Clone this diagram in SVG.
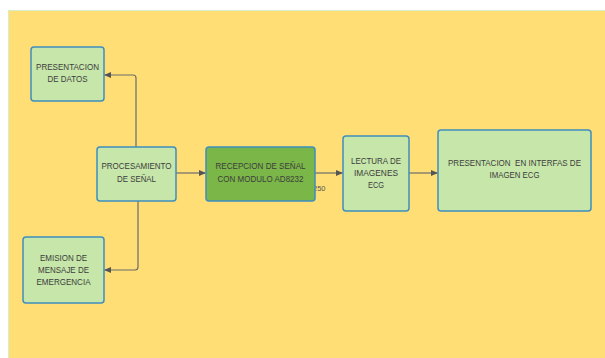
<svg xmlns="http://www.w3.org/2000/svg" width="605" height="358" viewBox="0 0 605 358">
<style>
.node{fill:#C6E6AA;stroke:#3E8FBF;stroke-width:1.5}
.dark{fill:#7AB648;stroke:#3E8FBF;stroke-width:1.5}
.lbl{font-family:"Liberation Sans",Arial,sans-serif;font-size:9px;fill:#3d3d3d;text-anchor:middle}
.conn{fill:none;stroke:#6b6b6b;stroke-width:1.2}
</style>
<defs>
<marker id="arr" markerWidth="7" markerHeight="6" refX="6.5" refY="3" orient="auto" markerUnits="userSpaceOnUse">
<path d="M0,0 L7,3 L0,6 Z" fill="#555"/>
</marker>
</defs>
<rect x="0" y="0" width="605" height="358" fill="#ffffff"/>
<rect x="8.5" y="10.5" width="600" height="350" fill="#FFDE75" stroke="#D8EDC8" stroke-width="1"/>
<g id="connectors">
<path class="conn" d="M136 147 V78 Q136 75 133 75 H104.5" marker-end="url(#arr)"/>
<path class="conn" d="M138 201 V267 Q138 270 135 270 H104.5" marker-end="url(#arr)"/>
<path class="conn" d="M176 173 H205.5" marker-end="url(#arr)"/>
<path class="conn" d="M315 173 H342.5" marker-end="url(#arr)"/>
<path class="conn" d="M409 173 H437.5" marker-end="url(#arr)"/>
<text x="313" y="191" style="font-family:'Liberation Sans',Arial,sans-serif;font-size:7.5px;fill:#555">250</text>
</g>
<g id="presentacion-datos">
<rect class="node" x="31" y="47" width="73" height="54" rx="3"/>
<text class="lbl" x="67.5" y="70" textLength="63" lengthAdjust="spacingAndGlyphs">PRESENTACION</text>
<text class="lbl" x="67.5" y="82" textLength="40" lengthAdjust="spacingAndGlyphs">DE DATOS</text>
</g>
<g id="procesamiento">
<rect class="node" x="97" y="147" width="79" height="54" rx="3"/>
<text class="lbl" x="136.5" y="169" textLength="70" lengthAdjust="spacingAndGlyphs">PROCESAMIENTO</text>
<text class="lbl" x="136.5" y="182" textLength="39" lengthAdjust="spacingAndGlyphs">DE SEÑAL</text>
</g>
<g id="recepcion">
<rect class="dark" x="206" y="147" width="109" height="54" rx="3"/>
<text class="lbl" x="260.5" y="169" textLength="90" lengthAdjust="spacingAndGlyphs">RECEPCION DE SEÑAL</text>
<text class="lbl" x="260.5" y="182" textLength="86" lengthAdjust="spacingAndGlyphs">CON MODULO AD8232</text>
</g>
<g id="lectura">
<rect class="node" x="343" y="136" width="66" height="75" rx="3"/>
<text class="lbl" x="376" y="164" textLength="50" lengthAdjust="spacingAndGlyphs">LECTURA DE</text>
<text class="lbl" x="376" y="176" textLength="44" lengthAdjust="spacingAndGlyphs">IMAGENES</text>
<text class="lbl" x="376" y="188" textLength="16" lengthAdjust="spacingAndGlyphs">ECG</text>
</g>
<g id="presentacion-interfas">
<rect class="node" x="438" y="130" width="153" height="81" rx="3"/>
<text class="lbl" x="514.5" y="166" textLength="133" lengthAdjust="spacingAndGlyphs" xml:space="preserve">PRESENTACION  EN INTERFAS DE</text>
<text class="lbl" x="514.5" y="178" textLength="50" lengthAdjust="spacingAndGlyphs">IMAGEN ECG</text>
</g>
<g id="emision">
<rect class="node" x="23" y="237" width="81" height="66" rx="3"/>
<text class="lbl" x="63.5" y="261" textLength="47" lengthAdjust="spacingAndGlyphs">EMISION DE</text>
<text class="lbl" x="63.5" y="273" textLength="51" lengthAdjust="spacingAndGlyphs">MENSAJE DE</text>
<text class="lbl" x="63.5" y="285" textLength="54" lengthAdjust="spacingAndGlyphs">EMERGENCIA</text>
</g>
</svg>
